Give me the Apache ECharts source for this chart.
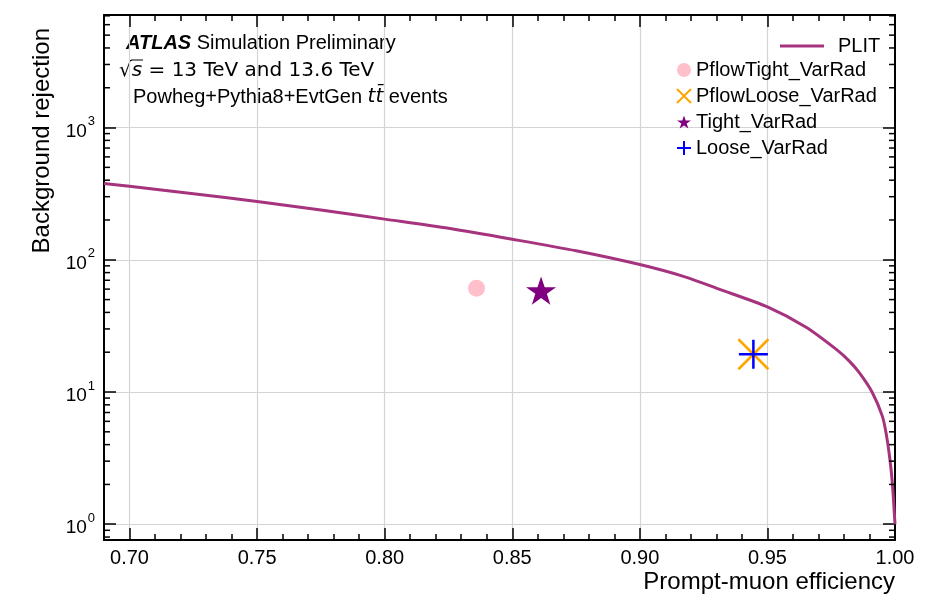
<!DOCTYPE html>
<html>
<head>
<meta charset="utf-8">
<title>PLIT muon rejection</title>
<script src="https://cdn.jsdelivr.net/npm/echarts@6/dist/echarts.min.js"></script>
<style>
  html, body { margin: 0; padding: 0; background: #fff; }
  #chart { width: 944px; height: 597px; }
</style>
</head>
<body>
<div id="chart"></div>
<script>
// PLIT curve
const effPLIT = [0.69, 0.70, 0.725, 0.75, 0.775, 0.80, 0.825, 0.85, 0.875, 0.90, 0.918, 0.931, 0.95, 0.965, 0.977, 0.982, 0.986, 0.991, 0.995, 0.9965, 0.998, 0.999, 1.0]
const rejPLIT = [378, 360, 316, 276, 238, 203, 173, 143, 117, 92, 74, 60, 44, 31, 21, 17.2, 14, 10, 6.6, 4.9, 3.1, 2.0, 1.0]

// working points
const pointNames = ['PflowTight_VarRad', 'PflowLoose_VarRad', 'Tight_VarRad', 'Loose_VarRad']
const pointEff = [0.836, 0.9445, 0.8613, 0.9445]
const pointRej = [61, 19.3, 58.5, 19.3]

// minor ticks of the log axis
const yMinorTicks = [0.8, 0.9, 2, 3, 4, 5, 6, 7, 8, 9, 20, 30, 40, 50, 60, 70, 80, 90,
  200, 300, 400, 500, 600, 700, 800, 900, 2000, 3000, 4000, 5000, 6000, 7000]

const font = 'Liberation Sans, Arial, Helvetica, sans-serif'
const xMin = 0.69
const xMax = 1.0
const yMin = 0.76
const yMax = 7100

const pointStyles = [
  { symbol: 'circle', size: 17, color: '#ffc0cb', border: 0 },
  { symbol: 'path://M0,0 L10,10 M10,0 L0,10', size: 30, color: '#ffa500', border: 2.5 },
  { symbol: 'path://M50,0 L61.8,35.1 L98.9,35.1 L68.8,56.7 L80.2,91.9 L50,70.1 L19.8,91.9 L31.2,56.7 L1.1,35.1 L38.2,35.1 Z', size: 30, color: '#800080', border: 0 },
  { symbol: 'path://M5,0 L5,10 M0,5 L10,5', size: 29, color: '#0000ff', border: 2.5 }
]

const chart = echarts.init(document.getElementById('chart'))

function xAxisCfg(pos) {
  return {
    type: 'value',
    position: pos,
    min: xMin,
    max: xMax,
    axisLine: { show: true, onZero: false, lineStyle: { color: '#000', width: 2 } },
    axisTick: { show: true, inside: true, length: 12, lineStyle: { color: '#000', width: 1.5 } },
    minorTick: { show: true, splitNumber: 5, length: 6, lineStyle: { color: '#000', width: 1.5 } },
    axisLabel: {
      show: pos === 'bottom',
      showMinLabel: false,
      margin: 8,
      color: '#000',
      fontSize: 20,
      fontFamily: font,
      formatter: v => v.toFixed(2)
    },
    splitLine: {
      show: pos === 'bottom',
      showMinLine: false,
      showMaxLine: false,
      lineStyle: { color: '#d4d4d4', width: 1.2 }
    }
  }
}

function yAxisCfg(pos) {
  return {
    type: 'log',
    logBase: 10,
    position: pos,
    min: yMin,
    max: yMax,
    axisLine: { show: true, onZero: false, lineStyle: { color: '#000', width: 2 } },
    axisTick: { show: true, inside: true, length: 12, lineStyle: { color: '#000', width: 1.5 } },
    axisLabel: {
      show: pos === 'left',
      showMinLabel: false,
      showMaxLabel: false,
      margin: 9,
      color: '#000',
      fontFamily: font,
      formatter: v => {
        const e = Math.log10(v)
        const r = Math.round(e)
        if (Math.abs(e - r) > 1e-6) return ''
        return '{b|10}{s|' + r + '}'
      },
      rich: {
        b: { fontSize: 19, fontFamily: font, color: '#000', padding: [8, 0, 0, 0] },
        s: { fontSize: 13, fontFamily: font, color: '#000', padding: [0, 0, 12, 1] }
      }
    },
    splitLine: {
      show: pos === 'left',
      showMinLine: false,
      showMaxLine: false,
      lineStyle: { color: '#d4d4d4', width: 1.2 }
    }
  }
}

const pointSeries = pointNames.map((name, i) => ({
  name: name,
  type: 'scatter',
  symbol: pointStyles[i].symbol,
  symbolSize: pointStyles[i].size,
  symbolKeepAspect: true,
  itemStyle: {
    color: pointStyles[i].color,
    borderColor: pointStyles[i].color,
    borderWidth: pointStyles[i].border,
    opacity: 1
  },
  z: 4,
  data: [[pointEff[i], pointRej[i]]]
}))

chart.setOption({
  animation: false,
  grid: { left: 104, right: 49, top: 15, bottom: 57 },
  xAxis: [xAxisCfg('bottom'), xAxisCfg('top')],
  yAxis: [yAxisCfg('left'), yAxisCfg('right')],
  legend: [
    {
      data: [{ name: 'PLIT', icon: 'rect' }],
      left: 775,
      top: 31,
      itemWidth: 44,
      itemHeight: 3,
      textStyle: { fontSize: 20, fontFamily: font, color: '#000', lineHeight: 20, padding: [0, 0, 0, 9] }
    },
    {
      data: pointNames,
      orient: 'vertical',
      left: 671,
      top: 55,
      itemWidth: 14,
      itemHeight: 14,
      itemGap: 6,
      textStyle: { fontSize: 20, fontFamily: font, color: '#000', lineHeight: 20 }
    }
  ],
  graphic: [
    {
      type: 'text',
      x: 126,
      y: 43,
      style: {
        text: '{b|ATLAS} Simulation Preliminary',
        font: '20px ' + font,
        fill: '#000',
        verticalAlign: 'middle',
        rich: { b: { fontSize: 20, fontFamily: font, fontWeight: 'bold', fontStyle: 'italic' } }
      }
    },
    {
      type: 'text',
      x: 119,
      y: 71,
      style: {
        text: '√{i|s} = 13 TeV and 13.6 TeV',
        font: '20px DejaVu Sans',
        fill: '#000',
        verticalAlign: 'middle',
        rich: { i: { fontSize: 20, fontFamily: 'DejaVu Sans', fontStyle: 'italic' } }
      }
    },
    {
      type: 'line',
      shape: { x1: 131, y1: 60, x2: 143, y2: 60 },
      style: { stroke: '#000', lineWidth: 1 }
    },
    {
      type: 'text',
      x: 133,
      y: 97,
      style: {
        text: 'Powheg+Pythia8+EvtGen {i|tt\u0304} events',
        font: '20px ' + font,
        fill: '#000',
        verticalAlign: 'middle',
        rich: { i: { fontSize: 20, fontFamily: 'DejaVu Sans', fontStyle: 'italic' } }
      }
    },
    {
      type: 'text',
      x: 42,
      y: 28,
      rotation: Math.PI / 2,
      style: {
        text: 'Background rejection',
        font: '24px ' + font,
        fill: '#000',
        align: 'right',
        verticalAlign: 'middle'
      }
    },
    {
      type: 'text',
      x: 895,
      y: 582,
      style: {
        text: 'Prompt-muon efficiency',
        font: '24px ' + font,
        fill: '#000',
        align: 'right',
        verticalAlign: 'middle'
      }
    }
  ],
  series: [
    {
      name: 'PLIT',
      type: 'line',
      smooth: 0.25,
      showSymbol: false,
      symbol: 'none',
      lineStyle: { color: '#a6337d', width: 3 },
      itemStyle: { color: '#a6337d' },
      z: 3,
      data: effPLIT.map((e, i) => [e, rejPLIT[i]])
    },
    ...pointSeries,
    {
      // minor ticks on the left and right log axes
      name: 'yMinor',
      type: 'custom',
      silent: true,
      clip: false,
      z: 5,
      data: yMinorTicks.map(v => [xMin, v]),
      renderItem: (params, api) => {
        const y = api.coord([xMin, api.value(1)])[1]
        const left = params.coordSys.x
        const right = params.coordSys.x + params.coordSys.width
        const style = { stroke: '#000', lineWidth: 1.5 }
        return {
          type: 'group',
          children: [
            { type: 'line', shape: { x1: left, y1: y, x2: left + 6, y2: y }, style: style },
            { type: 'line', shape: { x1: right, y1: y, x2: right - 6, y2: y }, style: style }
          ]
        }
      }
    }
  ]
})
</script>
</body>
</html>
